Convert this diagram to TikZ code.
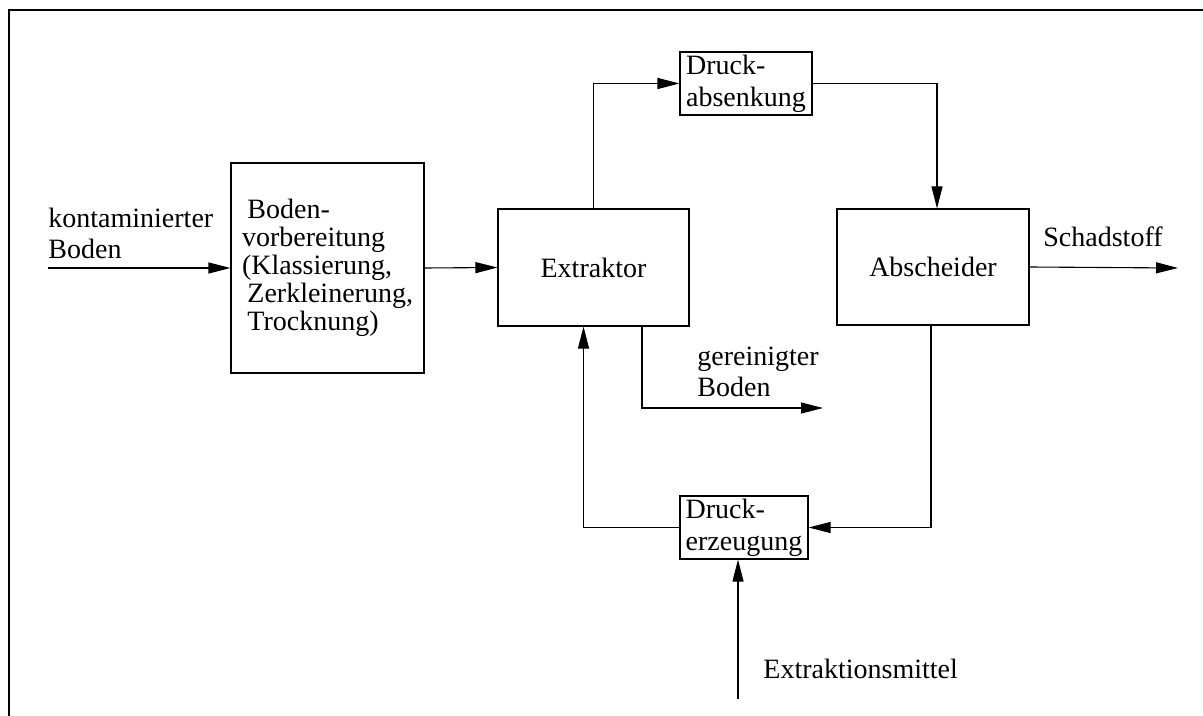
\documentclass[tikz,border=0pt]{standalone}
\usepackage{fontspec}
\setmainfont{Liberation Serif}
\usetikzlibrary{arrows.meta}
\begin{document}
\begin{tikzpicture}[x=0.5pt,y=-0.5pt,
  box/.style={draw, line width=0.55pt, inner sep=0pt, align=left,
    font=\fontsize{14}{16}\selectfont},
  flow/.style={draw, line width=0.55pt, -{Triangle[length=11pt,width=5.5pt]}},
  lbl/.style={inner sep=0pt, align=left, font=\fontsize{14}{15.5}\selectfont}]
\useasboundingbox (0,0) rectangle (1203,716);
% frame
\draw[line width=1.25pt] (9,716) -- (9,10) -- (1203,10);

% process units
\node[box, minimum width=96.5pt, minimum height=105pt,
      font=\fontsize{14}{14}\selectfont] (prep) at (327.5,268)
  {\hspace{2.7pt}Boden-\\vorbereitung\\(Klassierung,\\\hspace{2.7pt}Zerkleinerung,\\\hspace{2.7pt}Trocknung)};
\node[box, minimum width=95.5pt, minimum height=58.5pt] (extr) at (593.5,267.5) {Extraktor};
\node[box, minimum width=96pt, minimum height=58pt] (absch) at (933,267) {Abscheider};
\node[box, minimum width=66pt, minimum height=31.5pt] (dabs) at (746,83.5) {Druck-\\absenkung};
\node[box, minimum width=64pt, minimum height=31.5pt] (derz) at (744,527.5) {Druck-\\erzeugung};

% free ends of the streams
\coordinate (in) at (48,268);
\coordinate (out) at (1178,268);
\coordinate (clean) at (823,408);
\coordinate (solvent) at (738,699);

% stream labels
\node[lbl, anchor=west] (lin) at (48,233) {kontaminierter\\Boden};
\node[lbl, anchor=base west] (lout) at (1043,247) {Schadstoff};
\node[lbl, anchor=west] (lclean) at (697,372) {gereinigter\\Boden};
\node[lbl, anchor=base west] (lsolv) at (763,678) {Extraktionsmittel};

% streams
\draw[flow] (in) -- (prep.west);
\draw[flow] (prep.east) -- (extr.west);
\draw[flow] (extr.north) |- (dabs.west);
\draw[flow] (dabs.east) -| ([xshift=2pt]absch.north);
\draw[flow] (absch.east) -- (out);
\draw[flow] ([xshift=-1pt]absch.south) |- (derz.east);
\draw[flow] (derz.west) -| ([xshift=-5pt]extr.south);
\draw[flow] ([xshift=24.25pt]extr.south) |- (clean);
\draw[flow] (solvent) -- (solvent |- derz.south);
\end{tikzpicture}
\end{document}
